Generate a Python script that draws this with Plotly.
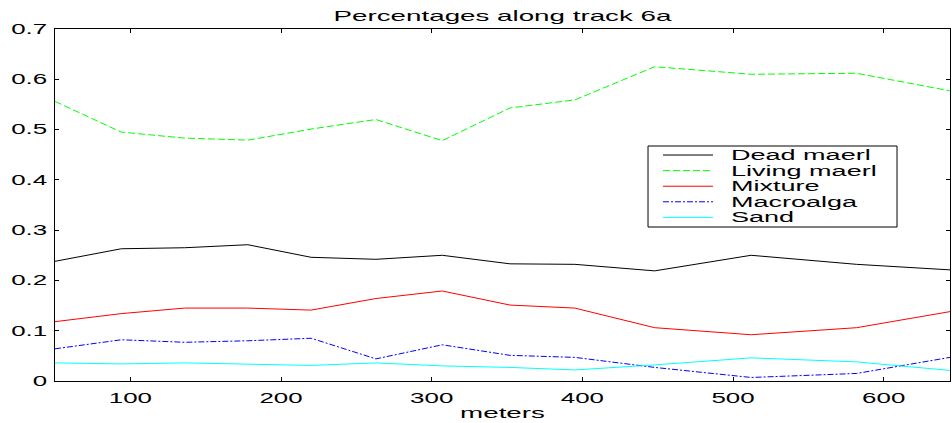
import plotly.graph_objects as go

# ---------------- data ----------------
meters = [50, 94, 136, 178, 220, 263, 307, 352, 395, 448, 512, 582, 644]
dead_maerl = [0.238, 0.263, 0.265, 0.271, 0.246, 0.242, 0.250, 0.233, 0.232, 0.219, 0.250, 0.232, 0.221]
living_maerl = [0.556, 0.495, 0.483, 0.479, 0.501, 0.520, 0.478, 0.543, 0.559, 0.625, 0.610, 0.612, 0.577]
mixture = [0.118, 0.134, 0.145, 0.145, 0.141, 0.164, 0.179, 0.151, 0.145, 0.106, 0.092, 0.106, 0.138]
macroalga = [0.064, 0.082, 0.077, 0.080, 0.085, 0.044, 0.072, 0.051, 0.047, 0.027, 0.007, 0.015, 0.047]
sand = [0.036, 0.034, 0.036, 0.034, 0.031, 0.036, 0.030, 0.027, 0.022, 0.032, 0.046, 0.038, 0.021]

series_names = ["Dead maerl", "Living maerl", "Mixture", "Macroalga", "Sand"]
x_tick_vals = [100, 200, 300, 400, 500, 600]
y_tick_vals = [0, 0.1, 0.2, 0.3, 0.4, 0.5, 0.6, 0.7]
y_tick_text = ["0", "0.1", "0.2", "0.3", "0.4", "0.5", "0.6", "0.7"]

# ---------------- styles ----------------
series_values = [dead_maerl, living_maerl, mixture, macroalga, sand]
colors = ["#000000", "#00ff00", "#ff0000", "#0000ff", "#00ffff"]
dashes = ["solid", "7px,3px", "solid", "6px,2px,2px,2px", "solid"]
FONT = "Liberation Sans, Arial, Helvetica, sans-serif"

fig = go.Figure()
for name, vals, col, dash in zip(series_names, series_values, colors, dashes):
    fig.add_trace(go.Scatter(
        x=meters, y=vals, mode="lines", name=name,
        line=dict(color=col, width=1, dash=dash),
        showlegend=False, hoverinfo="skip",
    ))

# ---------------- hand-drawn legend box (paper coords) ----------------
leg_x0, leg_x1 = 0.6626, 0.9408
leg_y0, leg_y1 = 0.4375, 0.6676
sample_x0, sample_x1 = 0.6793, 0.7352
text_x = 0.7530
row_y = [0.6420, 0.5977, 0.5534, 0.5091, 0.4650]

shapes = [dict(type="rect", xref="paper", yref="paper",
               x0=leg_x0, x1=leg_x1, y0=leg_y0, y1=leg_y1,
               line=dict(color="black", width=1), fillcolor="white", layer="above")]
annotations = []
for name, col, dash, yc in zip(series_names, colors, dashes, row_y):
    shapes.append(dict(type="line", xref="paper", yref="paper",
                       x0=sample_x0, x1=sample_x1, y0=yc, y1=yc,
                       line=dict(color=col, width=1, dash=dash), layer="above"))
    annotations.append(dict(text=name, xref="paper", yref="paper", x=text_x, y=yc,
                            xanchor="left", yanchor="middle", showarrow=False,
                            font=dict(family=FONT, size=14, color="black")))

axis_common = dict(
    showline=True, linecolor="black", linewidth=1, mirror="ticks",
    ticks="inside", ticklen=4, tickcolor="black", tickwidth=1,
    showgrid=False, zeroline=False,
    tickfont=dict(family=FONT, size=14, color="black"),
)

fig.update_layout(
    width=952, height=423,
    margin=dict(l=55, r=2, t=29, b=42),
    paper_bgcolor="white", plot_bgcolor="white",
    font=dict(family=FONT, size=14, color="black"),
    title=dict(text="Percentages along track 6a", x=0.5, xref="paper", xanchor="center",
               y=1 - 16 / 423, yref="container", yanchor="middle",
               font=dict(family=FONT, size=15, color="black")),
    xaxis=dict(range=[50, 644], tickvals=x_tick_vals, ticklabelstandoff=4,
               title=dict(text="meters", standoff=2, font=dict(family=FONT, size=15, color="black")),
               **axis_common),
    yaxis=dict(range=[0, 0.7], tickvals=y_tick_vals, ticktext=y_tick_text, ticklabelstandoff=4,
               **axis_common),
    shapes=shapes, annotations=annotations,
    showlegend=False,
)

# Remove the page margin, and stretch the text horizontally
# (the reference uses a wide, stretched typeface)
names_js = "[" + ",".join('"%s"' % n for n in series_names) + "]"
post_js = """
document.documentElement.style.margin = '0';
document.body.style.margin = '0';
document.body.style.padding = '0';
document.body.style.overflow = 'hidden';
var gd = document.getElementById('{plot_id}');
var K = 1.85, KL = 1.93;
var legendNames = %s;
gd.querySelectorAll('text').forEach(function(t){
  var s = t.textContent;
  if (!s) return;
  var w = t.getComputedTextLength();
  if (!w) return;
  var isLeg = legendNames.indexOf(s) >= 0;
  var k = isLeg ? KL : K;
  t.setAttribute('textLength', (w*k).toFixed(2));
  t.setAttribute('lengthAdjust', 'spacingAndGlyphs');
  if (isLeg) {
    var x = parseFloat(t.getAttribute('x') || '0');
    t.setAttribute('x', (x + w*(k-1)/2).toFixed(2));
  }
});
""" % names_js

fig.write_html("out.html", post_script=post_js,
               config={"displayModeBar": False, "staticPlot": True})
